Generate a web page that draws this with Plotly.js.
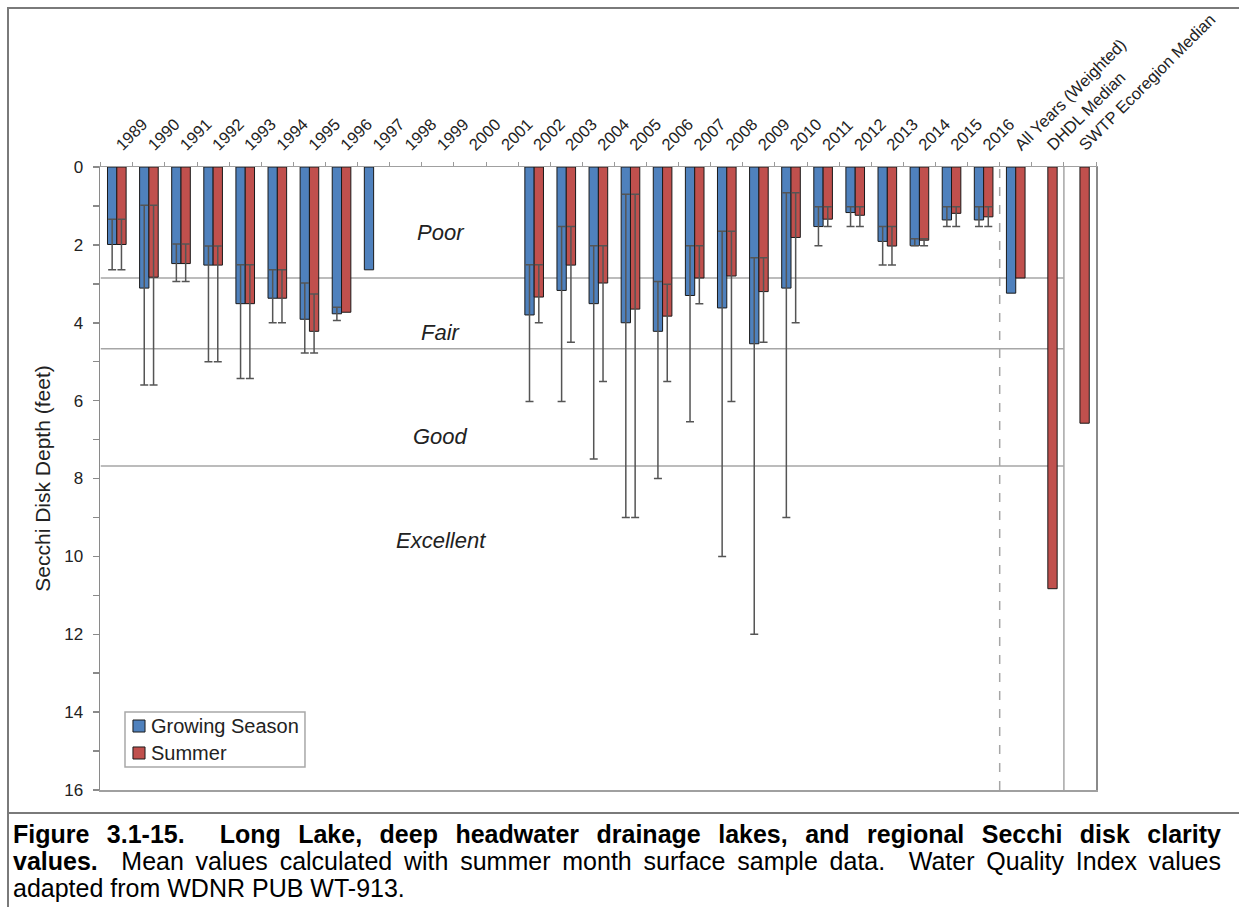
<!DOCTYPE html>
<html>
<head>
<meta charset="utf-8">
<script src="https://cdn.plot.ly/plotly-3.0.1.min.js"></script>
<style>
  html, body { margin: 0; padding: 0; background: #fff; }
  #wrap { position: relative; width: 1239px; height: 907px; overflow: hidden; background: #fff; }
  #chart { position: absolute; left: 0; top: 0; width: 1239px; height: 907px; }
  #frame { position: absolute; left: 7px; top: 7px; right: -10px; bottom: -10px;
           border-left: 2px solid #7a7a7a; border-top: 2px solid #7a7a7a; pointer-events: none; }
  #rule { position: absolute; left: 7px; top: 812px; width: 1232px; height: 0;
          border-top: 2px solid #7a7a7a; }
  .cap { position: absolute; left: 13px; width: 1208px; font-family: "Liberation Sans", Arial, sans-serif;
         font-size: 25px; line-height: 28px; color: #000; white-space: nowrap; }
  .just { text-align: justify; text-align-last: justify; white-space: normal; }
  .cap b { font-weight: bold; }
</style>
</head>
<body>
<div id="wrap">
  <div id="chart"></div>
  <div id="frame"></div>
  <div id="rule"></div>
  <div class="cap just" style="top:820px;"><b>Figure 3.1-15. &nbsp;Long Lake, deep headwater drainage lakes, and regional Secchi disk clarity</b></div>
  <div class="cap just" style="top:847px;"><b>values.</b> &nbsp;Mean values calculated with summer month surface sample data. &nbsp;Water Quality Index values</div>
  <div class="cap" style="top:874px;">adapted from WDNR PUB WT-913.</div>
</div>
<script>
// Secchi disk depth (feet) by year, with the weighted all-years mean and reference medians
const categories = ['1989', '1990', '1991', '1992', '1993', '1994', '1995', '1996', '1997', '1998',
  '1999', '2000', '2001', '2002', '2003', '2004', '2005', '2006', '2007', '2008', '2009', '2010',
  '2011', '2012', '2013', '2014', '2015', '2016',
  'All Years (Weighted)', 'DHDL Median', 'SWTP Ecoregion Median'];

// Growing season: mean, minimum and maximum
const growMean = [1.99, 3.11, 2.48, 2.52, 3.51, 3.37, 3.91, 3.77, 2.64, null,
  null, null, null, 3.80, 3.17, 3.51, 4.00, 4.22, 3.30, 3.62, 4.54, 3.11,
  1.53, 1.17, 1.91, 2.02, 1.36, 1.36,
  3.24, null, null];
const growMin = [1.34, 0.98, 1.98, 2.03, 2.51, 2.64, 2.98, 3.60, null, null,
  null, null, null, 2.51, 1.53, 2.02, 0.70, 2.94, 2.02, 1.65, 2.33, 0.66,
  1.02, 1.02, 1.53, 1.84, 1.02, 1.02,
  null, null, null];
const growMax = [2.64, 5.60, 2.94, 5.00, 5.43, 4.00, 4.78, 3.94, null, null,
  null, null, null, 6.02, 6.02, 7.50, 9.00, 8.00, 6.54, 10.00, 12.00, 9.00,
  2.02, 1.53, 2.52, 2.02, 1.53, 1.53,
  null, null, null];

// Summer: mean, minimum and maximum
const summerMean = [1.99, 2.83, 2.48, 2.52, 3.51, 3.37, 4.22, 3.73, null, null,
  null, null, null, 3.34, 2.52, 2.98, 3.65, 3.83, 2.85, 2.80, 3.20, 1.81,
  1.34, 1.24, 2.03, 1.88, 1.19, 1.28,
  2.85, 10.83, 6.58];
const summerMin = [1.34, 0.98, 1.98, 2.03, 2.51, 2.64, 3.26, null, null, null,
  null, null, null, 2.51, 1.53, 2.02, 0.70, 3.01, 2.02, 1.65, 2.33, 0.66,
  1.02, 1.02, 1.53, 1.84, 1.02, 1.02,
  null, null, null];
const summerMax = [2.64, 5.60, 2.94, 5.00, 5.43, 4.00, 4.78, null, null, null,
  null, null, null, 4.00, 4.50, 5.51, 9.00, 5.51, 3.51, 6.02, 4.50, 4.00,
  1.53, 1.53, 2.52, 2.02, 1.53, 1.53,
  null, null, null];

// Water Quality Index class boundaries (feet) and their labels
const classBounds = [2.85, 4.67, 7.68];
const classNames = ['Poor', 'Fair', 'Good', 'Excellent'];
const classLabelDepth = [1.67, 4.26, 6.93, 9.58];

const FONT = '"Liberation Sans", Arial, sans-serif';
const BLUE = '#4F81BD';
const RED = '#C0504D';
const EDGE = '#1a1a1a';

// error bars run from the minimum to the maximum around each mean
function upper(mean, max) {
  return mean.map((m, i) => (m == null || max[i] == null) ? NaN : max[i] - m);
}
function lower(mean, min) {
  return mean.map((m, i) => (m == null || min[i] == null) ? NaN : m - min[i]);
}

const errStyle = { type: 'data', symmetric: false, color: '#555555', thickness: 1.5, width: 4, visible: true };

const traces = [
  {
    type: 'bar', name: 'Growing Season', x: categories, y: growMean,
    marker: { color: BLUE, line: { color: EDGE, width: 1 } },
    error_y: Object.assign({ array: upper(growMean, growMax), arrayminus: lower(growMean, growMin) }, errStyle),
    hoverinfo: 'x+y'
  },
  {
    type: 'bar', name: 'Summer', x: categories, y: summerMean,
    marker: { color: RED, line: { color: EDGE, width: 1 } },
    error_y: Object.assign({ array: upper(summerMean, summerMax), arrayminus: lower(summerMean, summerMin) }, errStyle),
    hoverinfo: 'x+y'
  }
];

const nYears = 28;
const shapes = classBounds.map(d => ({
  type: 'line', xref: 'x', yref: 'y', x0: -0.5, x1: nYears + 1.5, y0: d, y1: d,
  line: { color: '#a6a6a6', width: 1.5 }, layer: 'below'
}));
// separator between yearly values and the summary columns
shapes.push({ type: 'line', xref: 'x', yref: 'paper', x0: nYears - 0.5, x1: nYears - 0.5, y0: 0, y1: 1,
  line: { color: '#a6a6a6', width: 1.5, dash: 'dash' }, layer: 'below' });
// separator before the ecoregion median
shapes.push({ type: 'line', xref: 'x', yref: 'paper', x0: nYears + 1.5, x1: nYears + 1.5, y0: 0, y1: 1,
  line: { color: '#a6a6a6', width: 1.5 }, layer: 'below' });

// legend box in the lower-left corner of the plot
const legendBox = { x0: 0.0251, x1: 0.2058, y0: 0.0369, y1: 0.1252 };
const legendRows = [0.1027, 0.0594];
const swatchW = 0.0121, swatchH = 0.0193;
shapes.push({ type: 'rect', xref: 'paper', yref: 'paper', x0: legendBox.x0, x1: legendBox.x1,
  y0: legendBox.y0, y1: legendBox.y1, fillcolor: '#ffffff', line: { color: '#a8a8a8', width: 1.5 }, layer: 'above' });

const annotations = classNames.map((t, i) => ({
  text: '<i>' + t + '</i>', xref: 'paper', yref: 'y', x: 0.342, y: classLabelDepth[i],
  showarrow: false, xanchor: 'center', yanchor: 'middle',
  font: { family: FONT, size: 22, color: '#222222' }
}));

traces.forEach((tr, i) => {
  const yc = legendRows[i];
  shapes.push({ type: 'rect', xref: 'paper', yref: 'paper', x0: 0.0331, x1: 0.0331 + swatchW,
    y0: yc - swatchH / 2, y1: yc + swatchH / 2, fillcolor: tr.marker.color,
    line: { color: EDGE, width: 1 }, layer: 'above' });
  annotations.push({ text: tr.name, xref: 'paper', yref: 'paper', x: 0.0492, y: yc,
    xanchor: 'left', yanchor: 'middle', showarrow: false,
    font: { family: FONT, size: 20, color: '#222222' } });
});

const layout = {
  width: 1239, height: 907,
  margin: { l: 100, r: 143, t: 167, b: 117, autoexpand: false },
  paper_bgcolor: 'rgba(0,0,0,0)', plot_bgcolor: '#ffffff',
  font: { family: FONT, color: '#222222' },
  barmode: 'group', bargap: 0.42, bargroupgap: 0,
  showlegend: false,
  xaxis: {
    type: 'category', side: 'top', tickangle: -45,
    tickfont: { family: FONT, size: 16.5, color: '#222222' },
    ticks: 'outside', ticklen: 4, tickcolor: '#9a9a9a', tickwidth: 1, tickson: 'boundaries',
    ticklabelstandoff: 5,
    showline: true, linecolor: '#a0a0a0', linewidth: 1.5, mirror: true,
    showgrid: false, zeroline: false, automargin: false, fixedrange: true
  },
  yaxis: {
    range: [16, 0], dtick: 2, tick0: 0,
    tickfont: { family: FONT, size: 17, color: '#222222' },
    ticks: 'outside', ticklen: 6, tickcolor: '#8a8a8a', tickwidth: 1.5,
    ticklabelstandoff: 6,
    minor: { dtick: 1, ticks: 'outside', ticklen: 6, tickcolor: '#8a8a8a', tickwidth: 1.5, showgrid: false },
    showline: true, linecolor: '#8a8a8a', linewidth: 1.5, mirror: true,
    showgrid: false, zeroline: false, automargin: false, fixedrange: true,
    title: { text: 'Secchi Disk Depth (feet)', font: { family: FONT, size: 21, color: '#222222' }, standoff: 8 }
  },
  shapes: shapes,
  annotations: annotations
};

Plotly.newPlot('chart', traces, layout, { displayModeBar: false, staticPlot: true });
</script>
</body>
</html>
